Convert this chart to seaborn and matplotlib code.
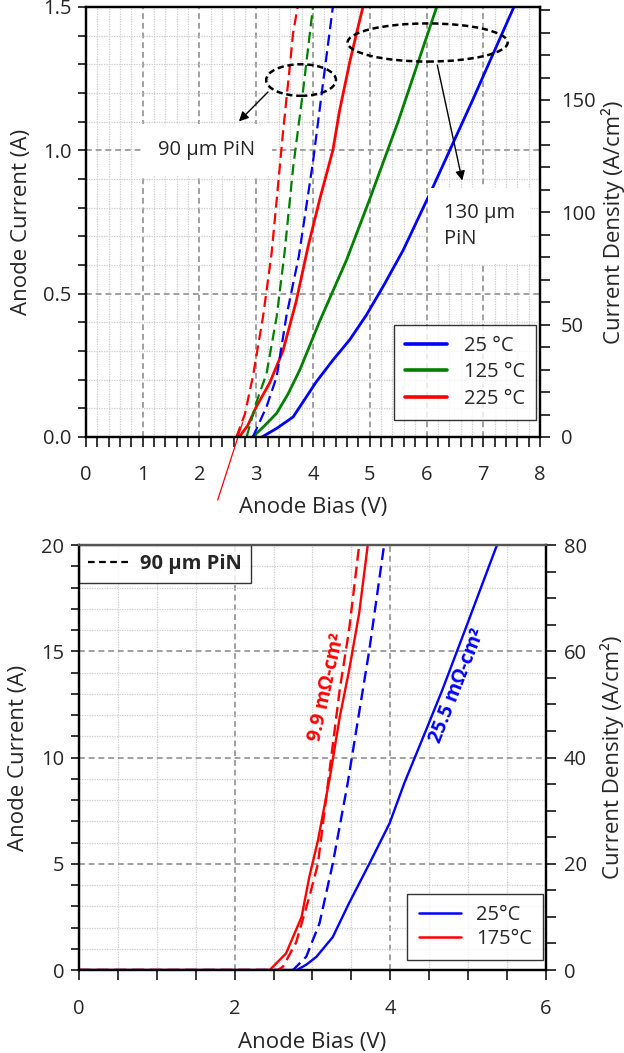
import numpy as np
import pandas as pd
import matplotlib
matplotlib.use("Agg")
import matplotlib.pyplot as plt
from matplotlib.patches import Ellipse
from matplotlib.lines import Line2D
from matplotlib.ticker import MultipleLocator, FormatStrFormatter
import seaborn as sns

# ---------------- data: top panel (low current) ----------------
top_blue_solid_v = [3.10, 3.36, 3.65, 3.77, 4.06, 4.35, 4.65, 4.94, 5.25, 5.59, 6.11, 6.81, 7.54]
top_blue_solid_i = [0.0, 0.03, 0.07, 0.106, 0.193, 0.268, 0.34, 0.425, 0.53, 0.652, 0.87, 1.174, 1.5]
top_green_solid_v = [2.94, 3.15, 3.36, 3.56, 3.77, 4.12, 4.59, 5.0, 5.5, 6.18]
top_green_solid_i = [0.0, 0.04, 0.083, 0.15, 0.235, 0.405, 0.617, 0.83, 1.10, 1.5]
top_red_solid_v = [2.70, 2.85, 3.00, 3.24, 3.47, 3.70, 3.92, 4.12, 4.35, 4.47, 4.65, 4.77, 4.88]
top_red_solid_i = [0.0, 0.04, 0.105, 0.19, 0.30, 0.47, 0.67, 0.83, 1.0, 1.14, 1.31, 1.41, 1.5]
top_red_dash_v = [2.65, 2.80, 2.94, 3.12, 3.27, 3.36, 3.47, 3.59, 3.65, 3.73]
top_red_dash_i = [0.0, 0.08, 0.21, 0.42, 0.64, 0.826, 1.06, 1.29, 1.41, 1.5]
top_green_dash_v = [2.83, 3.0, 3.18, 3.36, 3.50, 3.65, 3.82, 3.91, 4.0]
top_green_dash_i = [0.0, 0.12, 0.22, 0.42, 0.645, 0.94, 1.2, 1.35, 1.5]
top_blue_dash_v = [2.94, 3.18, 3.36, 3.53, 3.75, 4.0, 4.18, 4.35]
top_blue_dash_i = [0.0, 0.105, 0.21, 0.42, 0.63, 0.96, 1.24, 1.5]
top_temps = ["25 °C", "125 °C", "225 °C"]
top_area = 0.007837  # cm^2

# ---------------- data: bottom panel (high current) ----------------
bot_blue_solid_v = [0, 2.80, 2.92, 3.05, 3.26, 3.47, 3.73, 3.99, 4.18, 4.46, 4.67, 4.97, 5.37]
bot_blue_solid_i = [0, 0, 0.25, 0.62, 1.55, 3.15, 5.0, 6.9, 8.8, 11.3, 13.2, 16.1, 20.0]
bot_blue_dash_v = [0, 2.75, 2.92, 3.09, 3.26, 3.45, 3.73, 3.92]
bot_blue_dash_i = [0, 0, 0.63, 2.2, 5.0, 8.75, 15.06, 20.0]
bot_red_solid_v = [0, 2.45, 2.66, 2.86, 2.96, 3.07, 3.22, 3.35, 3.47, 3.60, 3.71]
bot_red_solid_i = [0, 0, 0.78, 2.5, 4.4, 6.1, 9.0, 11.9, 14.1, 16.8, 20.0]
bot_red_dash_v = [0, 2.55, 2.62, 2.79, 2.96, 3.07, 3.24, 3.35, 3.47, 3.60]
bot_red_dash_i = [0, 0, 0.15, 1.3, 3.45, 5.0, 10.0, 13.2, 16.0, 20.0]
bot_temps = ["25°C", "175°C"]
bot_area = 0.25  # cm^2

sns.set_style("ticks")
plt.rcParams["font.family"] = ["Open Sans", "DejaVu Sans"]
plt.rcParams["axes.unicode_minus"] = False

FS_TICK = 14.5
FS_LAB = 16

fig = plt.figure(figsize=(6.24, 10.53), dpi=100)
ax1 = fig.add_axes([0.1378, 0.5850, 0.7276, 0.4084])
ax3 = fig.add_axes([0.1266, 0.0788, 0.7484, 0.4036])

MAJ_GRID = dict(color="#a0a0a0", linestyle=(0, (3, 2)), linewidth=1.4)
MIN_GRID = dict(color="#cccccc", linestyle=(0, (1, 1)), linewidth=0.9)


def style_axes(ax):
    ax.set_axisbelow(True)
    ax.grid(which="major", **MAJ_GRID)
    ax.grid(which="minor", **MIN_GRID)
    for s in ax.spines.values():
        s.set_color("black")
        s.set_linewidth(1.6)
    ax.tick_params(axis="x", which="both", direction="out", length=7, width=1.3,
                   labelsize=FS_TICK, pad=13)
    ax.tick_params(axis="y", which="both", direction="out", length=5.5, width=1.3,
                   labelsize=FS_TICK, pad=5)


# ---------------- top panel ----------------
colors = ["#0000ff", "#008000", "#ff0000"]
solid_sets = [(top_blue_solid_v, top_blue_solid_i), (top_green_solid_v, top_green_solid_i),
              (top_red_solid_v, top_red_solid_i)]
dash_sets = [(top_blue_dash_v, top_blue_dash_i), (top_green_dash_v, top_green_dash_i),
             (top_red_dash_v, top_red_dash_i)]
for (v, i), c in zip(solid_sets, colors):
    sns.lineplot(x=v, y=i, ax=ax1, color=c, linewidth=2.0, sort=False, estimator=None)
for (v, i), c in zip(dash_sets, colors):
    sns.lineplot(x=v, y=i, ax=ax1, color=c, linewidth=1.6, sort=False, estimator=None,
                 linestyle=(0, (5, 2.5)))

ax1.set_xlim(0, 8)
ax1.set_ylim(0, 1.5)
ax1.xaxis.set_major_locator(MultipleLocator(1))
ax1.xaxis.set_minor_locator(MultipleLocator(0.2))
ax1.yaxis.set_major_locator(MultipleLocator(0.5))
ax1.yaxis.set_minor_locator(MultipleLocator(0.1))
ax1.yaxis.set_major_formatter(FormatStrFormatter("%.1f"))
style_axes(ax1)
ax1.set_xlabel("Anode Bias (V)", fontsize=FS_LAB)
ax1.set_ylabel("Anode Current (A)", fontsize=FS_LAB)
ax1.xaxis.set_label_coords(0.5, -0.14)
ax1.yaxis.set_label_coords(-0.118, 0.5)

# thin fit line below axis
ax1.plot([2.32, 2.76], [-0.22, 0.05], color="#ff0000", linewidth=0.9, clip_on=False)

# annotations
ax1.add_patch(Ellipse((3.79, 1.245), 1.23, 0.11, fill=False, edgecolor="black",
                      linestyle=(0, (2.5, 1.5)), linewidth=1.8, zorder=5))
ax1.add_patch(Ellipse((6.02, 1.376), 2.82, 0.133, fill=False, edgecolor="black",
                      linestyle=(0, (2.5, 1.5)), linewidth=1.8, zorder=5))
ax1.annotate("", xy=(2.66, 1.094), xytext=(3.24, 1.21),
             arrowprops=dict(arrowstyle="-|>", color="black", lw=1.0, mutation_scale=14))
ax1.annotate("", xy=(6.64, 0.885), xytext=(6.18, 1.307),
             arrowprops=dict(arrowstyle="-|>", color="black", lw=1.0, mutation_scale=14))
ax1.text(2.13, 1.0, "90 µm PiN", fontsize=FS_TICK, ha="center", va="center", zorder=4,
         bbox=dict(boxstyle="square,pad=0.8", facecolor="white", edgecolor="none"))
ax1.text(6.30, 0.735, "130 µm\nPiN", fontsize=FS_TICK, ha="left", va="center", zorder=4,
         linespacing=1.4,
         bbox=dict(boxstyle="square,pad=0.75", facecolor="white", edgecolor="none"))

handles = [Line2D([], [], color=c, linewidth=2.6) for c in colors]
leg = ax1.legend(handles, top_temps, loc="lower right", bbox_to_anchor=(0.991, 0.0395),
                 borderaxespad=0, fontsize=FS_TICK, frameon=True, fancybox=False,
                 handlelength=2.1, handletextpad=0.8, labelspacing=0.32,
                 borderpad=0.55, edgecolor="black")
leg.get_frame().set_linewidth(1.0)
leg.set_zorder(6)

ax2 = ax1.twinx()
ax2.set_ylim(0, 1.5 / top_area)
ax2.yaxis.set_major_locator(MultipleLocator(50))
ax2.yaxis.set_minor_locator(MultipleLocator(10))
ax2.tick_params(axis="y", which="both", direction="out", length=7, width=1.3,
                labelsize=FS_TICK, pad=8)
for s in ax2.spines.values():
    s.set_color("black")
    s.set_linewidth(1.6)
ax2.set_ylabel("Current Density (A/cm²)", fontsize=FS_LAB)
ax2.yaxis.set_label_coords(1.135, 0.5)

# ---------------- bottom panel ----------------
bc = ["#0000ff", "#ff0000"]
sns.lineplot(x=bot_blue_solid_v, y=bot_blue_solid_i, ax=ax3, color=bc[0], linewidth=1.7,
             sort=False, estimator=None)
sns.lineplot(x=bot_red_solid_v, y=bot_red_solid_i, ax=ax3, color=bc[1], linewidth=1.7,
             sort=False, estimator=None)
sns.lineplot(x=bot_blue_dash_v, y=bot_blue_dash_i, ax=ax3, color=bc[0], linewidth=1.7,
             sort=False, estimator=None, linestyle=(0, (5, 2.5)))
sns.lineplot(x=bot_red_dash_v, y=bot_red_dash_i, ax=ax3, color=bc[1], linewidth=1.7,
             sort=False, estimator=None, linestyle=(0, (5, 2.5)))

ax3.set_xlim(0, 6)
ax3.set_ylim(0, 20)
ax3.xaxis.set_major_locator(MultipleLocator(2))
ax3.xaxis.set_minor_locator(MultipleLocator(0.5))
ax3.yaxis.set_major_locator(MultipleLocator(5))
ax3.yaxis.set_minor_locator(MultipleLocator(1))
style_axes(ax3)
ax3.spines["top"].set_color("#555555")
ax3.tick_params(axis="y", which="both", pad=5)
ax3.tick_params(axis="x", which="both", pad=14)
ax3.set_xlabel("Anode Bias (V)", fontsize=FS_LAB)
ax3.set_ylabel("Anode Current (A)", fontsize=FS_LAB)
ax3.xaxis.set_label_coords(0.5, -0.146)
ax3.yaxis.set_label_coords(-0.108, 0.5)

ax3.text(3.19, 13.3, "9.9 mΩ-cm²", color="#ff0000", fontsize=14, fontweight="bold",
         rotation=77.5, ha="center", va="center", rotation_mode="anchor")
ax3.text(4.87, 13.4, "25.5 mΩ-cm²", color="#0000ff", fontsize=14, fontweight="bold",
         rotation=68.5, ha="center", va="center", rotation_mode="anchor")

bh = [Line2D([], [], color=c, linewidth=1.8) for c in bc]
leg2 = ax3.legend(bh, bot_temps, loc="lower right", bbox_to_anchor=(0.9936, 0.0235),
                  borderaxespad=0, fontsize=FS_TICK, frameon=True, fancybox=False,
                  handlelength=2.1, handletextpad=0.75, labelspacing=0.2,
                  borderpad=0.55, edgecolor="black")
leg2.get_frame().set_linewidth(1.0)
ax3.add_artist(leg2)
dh = [Line2D([], [], color="black", linewidth=1.6, linestyle=(0, (3, 2)))]
leg3 = ax3.legend(dh, ["90 µm PiN"], loc="upper left", bbox_to_anchor=(0.0, 1.0),
                  borderaxespad=0, prop=dict(size=FS_TICK, weight="bold"), frameon=True,
                  fancybox=False, handlelength=2.2, handletextpad=0.4, borderpad=0.45,
                  edgecolor="black")
leg3.get_frame().set_linewidth(1.0)

ax4 = ax3.twinx()
ax4.set_ylim(0, 20 / bot_area)
ax4.yaxis.set_major_locator(MultipleLocator(20))
ax4.yaxis.set_minor_locator(MultipleLocator(5))
ax4.tick_params(axis="y", which="both", direction="out", length=7, width=1.3,
                labelsize=FS_TICK, pad=6)
for s in ax4.spines.values():
    s.set_color("black")
    s.set_linewidth(1.6)
ax4.spines["top"].set_color("#555555")
ax4.set_ylabel("Current Density (A/cm²)", fontsize=FS_LAB)
ax4.yaxis.set_label_coords(1.115, 0.5)

fig.savefig("out.png", dpi=100)
